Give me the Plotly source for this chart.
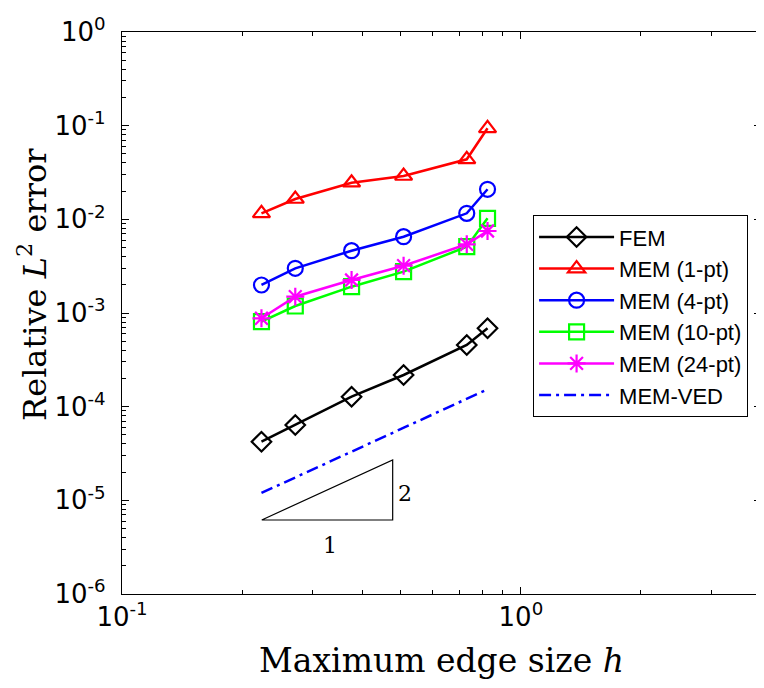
import plotly.graph_objects as go

# ---- data ----
h = [0.2237, 0.2719, 0.3763, 0.5081, 0.7317, 0.8249]
fem = [4.227e-5, 6.373e-5, 1.2778e-4, 2.1787e-4, 4.5551e-4, 6.8676e-4]
mem1 = [0.011599, 0.016487, 0.024606, 0.029025, 0.043750, 0.093738]
mem4 = [0.0019907, 0.0030012, 0.0046263, 0.0065258, 0.011599, 0.020927]
mem10 = [0.00080760, 0.0011878, 0.0019095, 0.0027608, 0.0051047, 0.010259]
mem24 = [0.00087818, 0.0014928, 0.0022512, 0.0031982, 0.0054139, 0.0075075]
ved = [1.198e-5, 1.754e-5, 3.309e-5, 5.944e-5, 1.2135e-4, 1.5333e-4]

tri_x = [0.2240, 0.4771, 0.4771, 0.2240]
tri_y = [6.170e-6, 6.170e-6, 2.696e-5, 6.170e-6]
tri_labels = ["1", "2"]
tri_label_x = [0.3322, 0.5123]
tri_label_y = [3.099e-6, 1.140e-5]

xtick_vals = [0.1, 1]
xtick_text = ["10<sup>-1</sup>", "10<sup>0</sup>"]
ytick_vals = [1e-6, 1e-5, 1e-4, 1e-3, 1e-2, 1e-1, 1]
ytick_text = ["10<sup>-6</sup>", "10<sup>-5</sup>", "10<sup>-4</sup>", "10<sup>-3</sup>",
              "10<sup>-2</sup>", "10<sup>-1</sup>", "10<sup>0</sup>"]

names = ["FEM", "MEM (1-pt)", "MEM (4-pt)", "MEM (10-pt)", "MEM (24-pt)"]
series = [fem, mem1, mem4, mem10, mem24]
colors = ["#000000", "#FF0000", "#0000FF", "#00FF00", "#FF00FF"]
symbols = ["diamond-open", "triangle-up-open", "circle-open", "square-open", "asterisk-open"]

fig = go.Figure()
for name, ys, c, s in zip(names, series, colors, symbols):
    fig.add_trace(go.Scatter(
        x=h, y=ys, name=name, mode="lines+markers",
        line=dict(color=c, width=2.5),
        marker=dict(symbol=s, size=15, color=c, line=dict(color=c, width=2.2)),
    ))
fig.add_trace(go.Scatter(
    x=h, y=ved, name="MEM-VED", mode="lines",
    line=dict(color="#0000FF", width=2.5, dash="12px,5px,3px,5px"),
))
fig.add_trace(go.Scatter(
    x=tri_x, y=tri_y, mode="lines", showlegend=False, hoverinfo="skip",
    line=dict(color="#000000", width=1.2),
))
fig.add_trace(go.Scatter(
    x=tri_label_x, y=tri_label_y, mode="text", text=tri_labels, showlegend=False,
    textfont=dict(family="DejaVu Serif, serif", size=22, color="#000000"),
))

minor_x = [m * 10 ** e for e in (-1, 0) for m in range(2, 10) if m * 10 ** e < 4]
minor_y = [m * 10 ** e for e in range(-6, 0) for m in range(2, 10)]

axis_common = dict(
    type="log", showgrid=False, zeroline=False, showline=True, linecolor="#000000",
    linewidth=1.2, mirror="ticks", ticks="inside", ticklen=7, tickcolor="#000000",
    automargin=False,
    tickfont=dict(family="DejaVu Sans, sans-serif", size=26, color="#000000"),
)

fig.update_xaxes(
    **axis_common, range=[-1, 0.602], tickvals=xtick_vals, ticktext=xtick_text,
    minor=dict(tickvals=minor_x, ticks="inside", ticklen=4, tickcolor="#000000", showgrid=False),
)
fig.update_yaxes(
    **axis_common, range=[-6, 0], tickvals=ytick_vals, ticktext=ytick_text,
    ticklabelstandoff=10,
    minor=dict(tickvals=minor_y, ticks="inside", ticklen=4, tickcolor="#000000", showgrid=False),
)

fig.add_annotation(
    text="Maximum edge size <i>h</i>", xref="paper", yref="paper", x=0.5, y=0,
    xanchor="center", yanchor="middle", yshift=-66, showarrow=False,
    font=dict(family="DejaVu Serif, serif", size=33, color="#000000"),
)
fig.add_annotation(
    text="Relative <i>L</i><sup>2</sup> error", xref="paper", yref="paper", x=0, y=0.55,
    xanchor="center", yanchor="middle", xshift=-90, textangle=-90, showarrow=False,
    font=dict(family="DejaVu Serif, serif", size=32, color="#000000"),
)

# the page body has an 8px margin, so the figure is 8px smaller than the window
fig.update_layout(
    width=756, height=680, autosize=False,
    margin=dict(l=114, r=3, t=24, b=94),
    paper_bgcolor="#FFFFFF", plot_bgcolor="#FFFFFF",
    legend=dict(
        x=0.643, y=0.6744, xanchor="left", yanchor="top",
        bgcolor="#FFFFFF", bordercolor="#000000", borderwidth=1.2,
        font=dict(family="Liberation Sans, Arial, sans-serif", size=22, color="#000000"),
        itemwidth=75, tracegroupgap=0,
    ),
)

fig.write_html("out.html")
